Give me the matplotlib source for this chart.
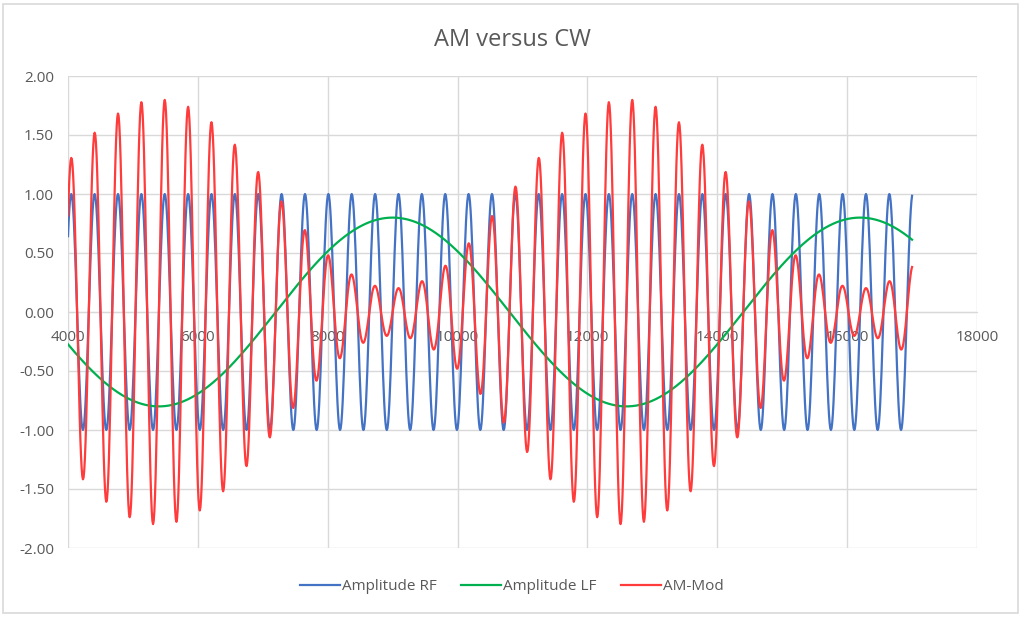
import numpy as np
import matplotlib.pyplot as plt
from matplotlib.patches import Rectangle

# values (x axis is in degrees of the RF carrier)
x_start, x_end, x_step = 4000, 17000, 10
rf_amplitude = 1.0
rf_period = 360          # one RF cycle every 360 units
lf_amplitude = 0.8
lf_period = 7200         # LF peaks at 9000 and 16200, troughs at 5400 and 12600

series_names = ["Amplitude RF", "Amplitude LF", "AM-Mod"]
series_colors = ["#4472C4", "#00B050", "#FF3B3B"]
x_ticks = [4000, 6000, 8000, 10000, 12000, 14000, 16000, 18000]
y_ticks = [-2.0, -1.5, -1.0, -0.5, 0.0, 0.5, 1.0, 1.5, 2.0]

x = np.arange(x_start, x_end + x_step, x_step)
rf = rf_amplitude * np.sin(2 * np.pi * x / rf_period)
lf = lf_amplitude * np.sin(2 * np.pi * x / lf_period)
am = rf * (1 - lf)  # carrier modulated by the inverted LF

plt.rcParams['font.family'] = ['Open Sans', 'DejaVu Sans']
text_grey = "#595959"
grid_grey = "#D9D9D9"

fig = plt.figure(figsize=(10.24, 6.2), dpi=100)
W, H = 1024, 620
ax = fig.add_axes([68 / W, 1 - 548 / H, (977 - 68) / W, (548 - 76) / H])

for y, name, col in zip([rf, lf, am], series_names, series_colors):
    ax.plot(x, y, color=col, linewidth=1.6, label=name)

ax.set_xlim(x_ticks[0], x_ticks[-1])
ax.set_ylim(y_ticks[0], y_ticks[-1])
ax.set_xticks(x_ticks)
ax.set_yticks(y_ticks)
ax.set_yticklabels([f"{v:.2f}" for v in y_ticks])
ax.grid(True, color=grid_grey, linewidth=1.0)
ax.set_axisbelow(True)

for side in ["top", "right", "left"]:
    ax.spines[side].set_visible(False)
ax.spines["bottom"].set_position(("data", 0))
ax.spines["bottom"].set_color(grid_grey)
ax.spines["bottom"].set_zorder(0.5)

ax.tick_params(axis="both", length=0, labelsize=11, labelcolor=text_grey)
ax.tick_params(axis="x", pad=13)
ax.tick_params(axis="y", pad=10)

fig.text(0.5, 1 - 40 / H, "AM versus CW", ha="center", va="center",
         fontsize=17, color=text_grey)

leg = ax.legend(loc="center", bbox_to_anchor=(0.5, 1 - 587 / H), bbox_transform=fig.transFigure,
                ncol=3, frameon=False, fontsize=11, handlelength=2.6,
                handletextpad=0.15, columnspacing=1.6)
for t in leg.get_texts():
    t.set_color(text_grey)

# chart area border
fig.patches.append(Rectangle((3 / W, 1 - 613 / H), (1018 - 3) / W, (613 - 4) / H,
                             transform=fig.transFigure, fill=False,
                             edgecolor=grid_grey, linewidth=1.2))

fig.savefig("out.png", dpi=100)
